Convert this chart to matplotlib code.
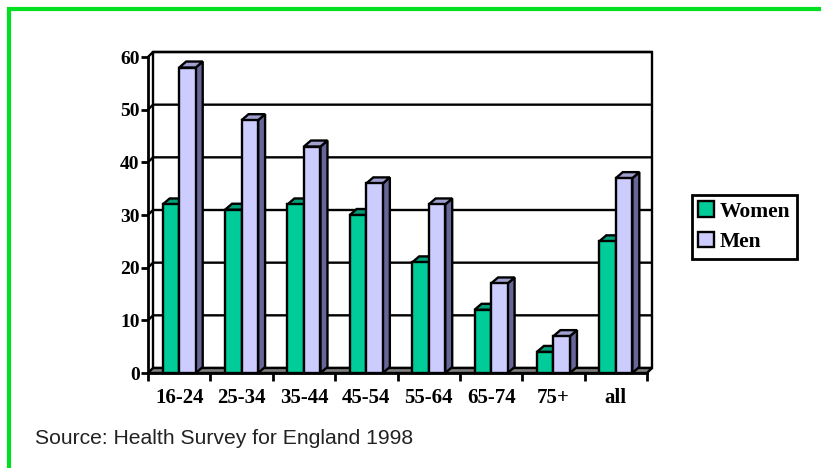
import numpy as np
import matplotlib.pyplot as plt
from matplotlib.patches import Polygon, Rectangle

groups = ['16-24', '25-34', '35-44', '45-54', '55-64', '65-74', '75+', 'all']
women = [32, 31, 32, 30, 21, 12, 4, 25]
men = [58, 48, 43, 36, 32, 17, 7, 37]
yticks = [0, 10, 20, 30, 40, 50, 60]

W, H = 821, 468
fig = plt.figure(figsize=(W / 100, H / 100), dpi=100)
fig.patch.set_facecolor('white')

# plot box in pixels: front axis x 148..647, y 373..57
ax = fig.add_axes([148 / W, (H - 373) / H, (647 - 148) / W, (373 - 57) / H])
ax.set_xlim(0, len(groups))
ax.set_ylim(0, 60)
ax.patch.set_visible(False)

# depth offsets converted from pixels to data units
px_x = ax.bbox.width / len(groups)
px_y = ax.bbox.height / 60
DX, DY = 5 / px_x, 5 / px_y        # walls
BX, BY = 7 / px_x, 6 / px_y        # bars

edge = dict(edgecolor='black', linewidth=1.7, joinstyle='miter', clip_on=False)

# back wall + left wall + floor
n = len(groups)
ax.add_patch(Polygon([(DX, DY), (n + DX, DY), (n + DX, 60 + DY), (DX, 60 + DY)],
                     facecolor='white', zorder=1, **edge))
for y in yticks[1:]:
    ax.plot([0, DX, n + DX], [y, y + DY, y + DY], color='black', lw=1.7,
            zorder=1.5, clip_on=False, solid_capstyle='butt')
ax.add_patch(Polygon([(0, 0), (n, 0), (n + DX, DY), (DX, DY)],
                     facecolor='#808080', zorder=1.6, **edge))


def bar3d(x0, w, h, front, top, side, z):
    ax.add_patch(Polygon([(x0 + w, 0), (x0 + w + BX, BY), (x0 + w + BX, h + BY), (x0 + w, h)],
                         facecolor=side, zorder=z, **edge))
    ax.add_patch(Polygon([(x0, h), (x0 + w, h), (x0 + w + BX, h + BY), (x0 + BX, h + BY)],
                         facecolor=top, zorder=z, **edge))
    ax.add_patch(Rectangle((x0, 0), w, h, facecolor=front, zorder=z, **edge))


bw = 0.265
for i, (wv, mv) in enumerate(zip(women, men)):
    c = i + 0.5
    bar3d(c - bw, bw, wv, '#00CC99', '#00A07A', '#007a5c', 2 + i * 0.1)
    bar3d(c, bw, mv, '#CCCCFF', '#A0A0D0', '#666699', 2.05 + i * 0.1)

# axes lines and ticks
for s in ['top', 'right']:
    ax.spines[s].set_visible(False)
for s in ['left', 'bottom']:
    ax.spines[s].set_linewidth(2)
    ax.spines[s].set_zorder(5)
ax.set_yticks(yticks)
ax.set_yticklabels([str(v) for v in yticks], fontfamily='Liberation Serif',
                   fontweight='bold', fontsize=14)
ax.set_xticks(np.arange(n + 1))
ax.set_xticklabels([])
ax.set_xticks(np.arange(n) + 0.5, minor=True)
ax.set_xticklabels(groups, minor=True, fontfamily='Liberation Serif',
                   fontweight='bold', fontsize=15)
ax.tick_params(axis='y', direction='out', length=5, width=2, pad=1)
ax.tick_params(axis='x', which='major', direction='out', length=6, width=2)
ax.tick_params(axis='x', which='minor', length=0, pad=11)

# legend
leg = fig.legend(handles=[Rectangle((0, 0), 1, 1, facecolor='#00CC99', edgecolor='black', lw=1.7),
                          Rectangle((0, 0), 1, 1, facecolor='#CCCCFF', edgecolor='black', lw=1.7)],
                 labels=['Women', 'Men'], loc='upper left',
                 bbox_to_anchor=(692 / W, 1 - 195 / H),
                 prop=dict(family='Liberation Serif', weight='bold', size=15.5),
                 handlelength=0.7, handleheight=0.7, handletextpad=0.3,
                 borderpad=0.3, labelspacing=0.5, fancybox=False,
                 borderaxespad=0, framealpha=1)
leg.get_frame().set_edgecolor('black')
leg.get_frame().set_linewidth(2)

fig.text(35 / W, 1 - 438 / H, 'Source: Health Survey for England 1998',
         fontfamily='Liberation Sans', fontsize=15.2, color='#222222', va='center')

# green frame along the top and left
fig.add_artist(plt.Line2D([9 / W, 9 / W, 1], [0, 1 - 9 / H, 1 - 9 / H],
                          transform=fig.transFigure, color='#00E020', lw=3,
                          solid_joinstyle='miter'))

fig.savefig('out.png', dpi=100)
